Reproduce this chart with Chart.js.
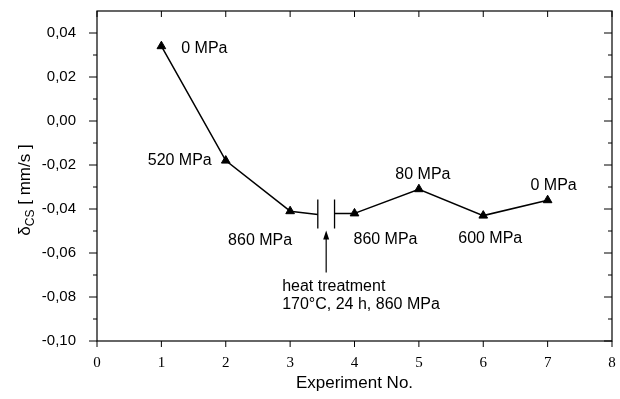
<!DOCTYPE html>
<html><head><meta charset="utf-8">
<script src="https://cdn.jsdelivr.net/npm/chart.js@4"></script>
<style>html,body{margin:0;padding:0;background:#fff}#wrap{width:620px;height:399px;position:relative}</style>
</head><body><div id="wrap"><canvas id="c" width="620" height="399"></canvas></div>
<script>
// ---- data ----
const experiments = [1, 2, 3, 4, 5, 6, 7];
const deltaCS = [0.034, -0.018, -0.041, -0.042, -0.031, -0.043, -0.036];
const pressureLabels = ["0 MPa", "520 MPa", "860 MPa", "860 MPa", "80 MPa", "600 MPa", "0 MPa"];
const xTicks = [0, 1, 2, 3, 4, 5, 6, 7, 8];
const yTicks = [-0.10, -0.08, -0.06, -0.04, -0.02, 0.00, 0.02, 0.04];
const yMinorTicks = [-0.09, -0.07, -0.05, -0.03, -0.01, 0.01, 0.03];
const breakBars = [3.43, 3.69];      // axis-break marks between experiments 3 and 4
const breakAfterIndex = 2;           // segment from experiment 3 to 4 is broken
const arrowX = 3.56;
const noteLines = ["heat treatment", "170\u00B0C, 24 h, 860 MPa"];
const xTitle = "Experiment No.";

// ---- style (label offsets in px from their point) ----
const labelOffsets = [[43, 2], [-46, 0], [-30, 29], [31, 26], [4, -15], [7, 23], [6, -15]];
const SANS = "'Liberation Sans', Arial, sans-serif";
const SERIF = "'Liberation Serif', 'Times New Roman', serif";

const decor = {
  id: 'decor',
  afterDatasetsDraw(chart) {
    const ctx = chart.ctx, xs = chart.scales.x, ys = chart.scales.y, a = chart.chartArea;
    ctx.save();
    ctx.strokeStyle = '#000'; ctx.fillStyle = '#000'; ctx.lineWidth = 1.2;
    // frame
    ctx.strokeRect(a.left, a.top, a.right - a.left, a.bottom - a.top);
    ctx.lineWidth = 1;
    ctx.beginPath();
    xTicks.forEach(v => {
      const px = xs.getPixelForValue(v);
      ctx.moveTo(px, a.bottom); ctx.lineTo(px, a.bottom + 6);   // bottom, outward
      ctx.moveTo(px, a.top); ctx.lineTo(px, a.top + 6);         // top, inward
    });
    yTicks.forEach(v => {
      const py = ys.getPixelForValue(v);
      ctx.moveTo(a.left - 8, py); ctx.lineTo(a.left, py);
      ctx.moveTo(a.right - 8, py); ctx.lineTo(a.right, py);
    });
    yMinorTicks.forEach(v => {
      const py = ys.getPixelForValue(v);
      ctx.moveTo(a.left - 4, py); ctx.lineTo(a.left, py);
      ctx.moveTo(a.right - 4, py); ctx.lineTo(a.right, py);
    });
    ctx.stroke();

    // axis break between experiment 3 and 4
    const meta = chart.getDatasetMeta(0);
    const p3 = meta.data[breakAfterIndex], p4 = meta.data[breakAfterIndex + 1];
    const bl = xs.getPixelForValue(breakBars[0]), br = xs.getPixelForValue(breakBars[1]);
    const ly = p4.y + 1;
    ctx.lineWidth = 1.5;
    ctx.beginPath();
    ctx.moveTo(p3.x, p3.y); ctx.lineTo(bl, ly);
    ctx.moveTo(br, p4.y); ctx.lineTo(p4.x, p4.y);
    ctx.stroke();
    ctx.lineWidth = 1.3;
    ctx.beginPath();
    ctx.moveTo(bl, ly - 15); ctx.lineTo(bl, ly + 14);
    ctx.moveTo(br, ly - 15); ctx.lineTo(br, ly + 14);
    ctx.stroke();

    // arrow
    const ax = xs.getPixelForValue(arrowX);
    const tipY = ly + 16, tailY = ly + 58;
    ctx.lineWidth = 1.2;
    ctx.beginPath(); ctx.moveTo(ax, tailY); ctx.lineTo(ax, tipY + 6); ctx.stroke();
    ctx.beginPath(); ctx.moveTo(ax, tipY); ctx.lineTo(ax - 3, tipY + 9); ctx.lineTo(ax + 3, tipY + 9); ctx.closePath(); ctx.fill();

    // note text
    ctx.font = '16px ' + SANS;
    ctx.textAlign = 'left'; ctx.textBaseline = 'middle';
    noteLines.forEach((t, i) => ctx.fillText(t, ax - 44, tailY + 14 + i * 18));

    // point labels
    ctx.textAlign = 'center';
    meta.data.forEach((pt, i) => {
      ctx.fillText(pressureLabels[i], pt.x + labelOffsets[i][0], pt.y + labelOffsets[i][1]);
    });

    // x title
    ctx.font = '17px ' + SANS;
    ctx.fillText(xTitle, (a.left + a.right) / 2, 383);

    // y title: δ_CS [ mm/s ]
    ctx.translate(24, 190);
    ctx.rotate(-Math.PI / 2);
    const f1 = '17px ' + SANS, f2 = '12px ' + SANS;
    const s1 = "\u03B4", s2 = "CS", s3 = " [ mm/s ]";
    ctx.font = f1; const w1 = ctx.measureText(s1).width, w3 = ctx.measureText(s3).width;
    ctx.font = f2; const w2 = ctx.measureText(s2).width;
    let x0 = -(w1 + w2 + w3) / 2;
    ctx.textAlign = 'left'; ctx.textBaseline = 'alphabetic';
    ctx.font = f1; ctx.fillText(s1, x0, 6);
    ctx.font = f2; ctx.fillText(s2, x0 + w1, 10);
    ctx.font = f1; ctx.fillText(s3, x0 + w1 + w2, 6);
    ctx.restore();
  }
};

new Chart(document.getElementById('c'), {
  type: 'line',
  data: {
    datasets: [{
      data: experiments.map((x, i) => ({ x, y: deltaCS[i] })),
      borderColor: '#000',
      borderWidth: 1.5,
      pointStyle: 'triangle',
      pointRadius: 5,
      pointBackgroundColor: '#000',
      pointBorderColor: '#000',
      pointBorderWidth: 1,
      tension: 0,
      segment: { borderColor: c => c.p0DataIndex === breakAfterIndex ? 'rgba(0,0,0,0)' : '#000' }
    }]
  },
  options: {
    responsive: false,
    animation: false,
    events: [],
    layout: { padding: { top: 11, right: 8, left: 0, bottom: 0 } },
    plugins: { legend: { display: false }, tooltip: { enabled: false } },
    scales: {
      x: {
        type: 'linear', min: 0, max: 8,
        afterBuildTicks: s => { s.ticks = xTicks.map(v => ({ value: v })); },
        afterFit: s => { s.height = 58; s.paddingLeft = 0; s.paddingRight = 0; },
        grid: { display: false }, border: { display: false },
        ticks: { color: '#000', font: { family: SERIF, size: 15 }, padding: 5, maxRotation: 0 }
      },
      y: {
        type: 'linear', min: -0.10, max: 0.05,
        afterBuildTicks: s => { s.ticks = yTicks.map(v => ({ value: v })); },
        afterFit: s => { s.width = 97; s.paddingTop = 0; s.paddingBottom = 0; },
        grid: { display: false }, border: { display: false },
        ticks: {
          color: '#000', font: { family: SANS, size: 15 }, padding: 13,
          callback: v => v.toFixed(2).replace('.', ',')
        }
      }
    }
  },
  plugins: [decor]
});
</script>
</body></html>
